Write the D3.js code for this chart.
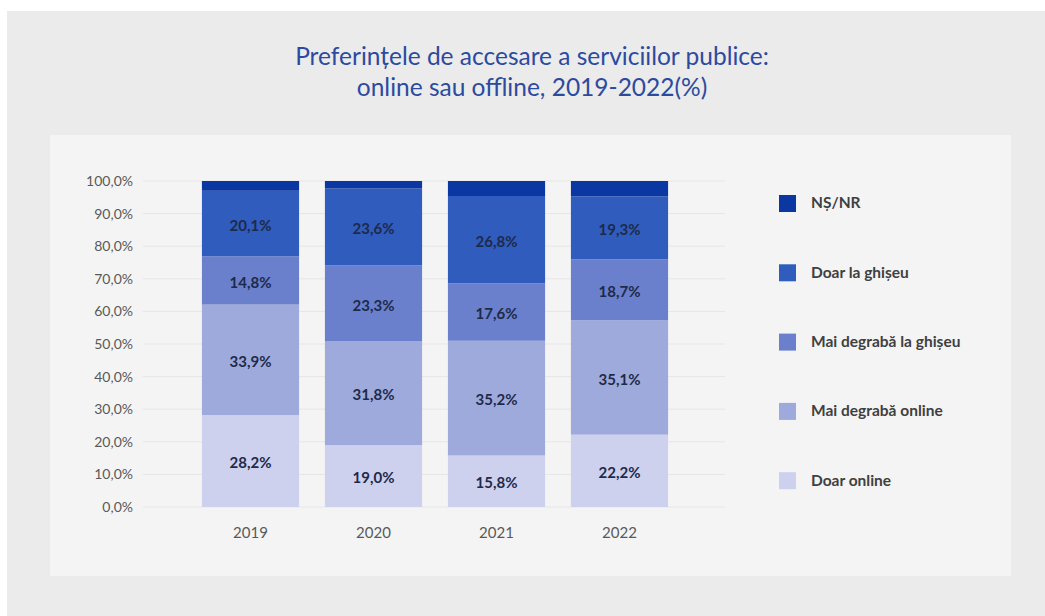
<!DOCTYPE html>
<html><head><meta charset="utf-8">
<script src="https://cdn.jsdelivr.net/npm/d3@7"></script>
<style>
html,body{margin:0;padding:0;background:#fff;}
svg{display:block;font-family:Lato,"Open Sans",sans-serif;}
</style></head>
<body>
<svg id="chart" width="1045" height="616"></svg>
<script>
const years = ["2019","2020","2021","2022"];
const seriesNames = ["Doar online","Mai degrabă online","Mai degrabă la ghișeu","Doar la ghișeu","NȘ/NR"];
const doarOnline = [28.2, 19.0, 15.8, 22.2];
const maiDegrabaOnline = [33.9, 31.8, 35.2, 35.1];
const maiDegrabaGhiseu = [14.8, 23.3, 17.6, 18.7];
const doarGhiseu = [20.1, 23.6, 26.8, 19.3];
const nsnr = [3.0, 2.3, 4.6, 4.7];
const yTicks = [0,10,20,30,40,50,60,70,80,90,100];
const colors = ["#cdd1ee","#9eaadc","#6a80cc","#2f5cbd","#0b37a3"];
const titleLines = ["Preferințele de accesare a serviciilor publice:","online sau offline, 2019-2022(%)"];

const seriesValues = [doarOnline, maiDegrabaOnline, maiDegrabaGhiseu, doarGhiseu, nsnr];
const table = years.map((y,i)=>{const o={year:y}; seriesNames.forEach((s,k)=>o[s]=seriesValues[k][i]); return o;});
const stack = d3.stack().keys(seriesNames)(table);

const svg = d3.select("#chart");
svg.append("rect").attr("x",7).attr("y",11).attr("width",1045-7).attr("height",616-11).attr("fill","#ebebeb");
svg.append("rect").attr("x",50).attr("y",135).attr("width",961).attr("height",441).attr("fill","#f4f4f4");

const t = svg.append("text").attr("text-anchor","middle").attr("fill","#2b4aa0").attr("font-size",24.5);
titleLines.forEach((l,i)=>t.append("tspan").attr("x",532).attr("y",65+i*31).text(l));

const x = d3.scaleBand().domain(years).range([189,681]).paddingInner(0.21).paddingOuter(0.105);
const y = d3.scaleLinear().domain([0,100]).range([507,181]);

svg.append("g").selectAll("line").data(yTicks).join("line")
  .attr("x1",143).attr("x2",725).attr("y1",d=>y(d)).attr("y2",d=>y(d))
  .attr("stroke","#e6e6e6").attr("stroke-width",1);

const yAxis = svg.append("g").attr("transform","translate(143,0)")
  .call(d3.axisLeft(y).tickValues(yTicks).tickSize(0).tickPadding(10).tickFormat(d=>d3.format(".1f")(d).replace(".",",")+"%"));
yAxis.select(".domain").remove();
yAxis.selectAll("text").attr("font-size",14).attr("fill","#595959").attr("font-family","Lato");

const xAxis = svg.append("g").attr("transform","translate(0,507)")
  .call(d3.axisBottom(x).tickSize(0).tickPadding(20));
xAxis.select(".domain").remove();
xAxis.selectAll("text").attr("font-size",15).attr("fill","#595959").attr("font-family","Lato");

const layers = svg.append("g").selectAll("g").data(stack).join("g").attr("fill",(d,i)=>colors[i]);
layers.selectAll("rect").data(d=>d).join("rect")
  .attr("x",d=>x(d.data.year)).attr("width",x.bandwidth())
  .attr("y",d=>y(d[1])).attr("height",d=>y(d[0])-y(d[1]));

svg.append("g").selectAll("g").data(stack.slice(0,4)).join("g")
  .selectAll("text").data(d=>d).join("text")
  .attr("x",d=>x(d.data.year)+x.bandwidth()/2)
  .attr("y",d=>y((d[0]+d[1])/2)+2)
  .attr("dy","0.35em").attr("text-anchor","middle")
  .attr("font-size",15).attr("font-weight","bold").attr("fill","#1e2a4a")
  .text(d=>d3.format(".1f")(d[1]-d[0]).replace(".",",")+"%");

const legendOrder = seriesNames.slice().reverse();
const lg = svg.append("g").selectAll("g").data(legendOrder).join("g")
  .attr("transform",(d,i)=>`translate(779,${203+i*69.3})`);
lg.append("rect").attr("x",0).attr("y",-8).attr("width",17).attr("height",17)
  .attr("fill",d=>colors[seriesNames.indexOf(d)]);
lg.append("text").attr("x",32).attr("dy","0.35em").attr("font-size",15.5).attr("font-weight","bold")
  .attr("fill","#404040").text(d=>d);
</script>
</body></html>
